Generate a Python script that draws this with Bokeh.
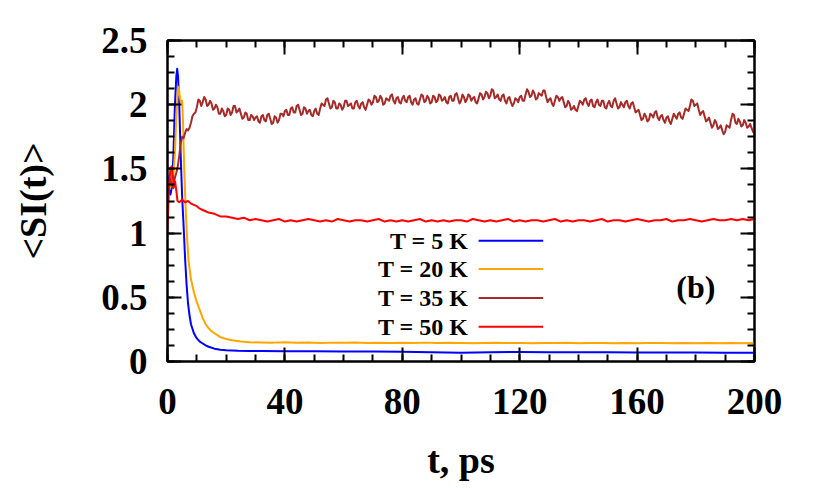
from bokeh.plotting import figure
from bokeh.models import Range1d, LinearAxis, SingleIntervalTicker, CustomJSTickFormatter, Label
from bokeh.embed import file_html
from bokeh.resources import INLINE

# ---------------- data ----------------
blue_t = [0, 0.5, 1, 1.5, 2, 2.5, 3, 3.3, 3.6, 4,
          4.5, 5, 5.5, 6, 6.5, 7, 7.5, 8, 9, 10,
          11, 12, 13, 14, 16, 18, 20, 24, 28, 32,
          40, 50, 60, 70, 80, 90, 100, 110, 120, 130,
          140, 150, 160, 170, 180, 190, 200]
blue_v = [1.45, 1.34, 1.30, 1.36, 1.60, 1.98, 2.22, 2.28, 2.22, 2.00,
          1.60, 1.28, 1.05, 0.80, 0.60, 0.45, 0.36, 0.29, 0.22, 0.18,
          0.155, 0.14, 0.125, 0.115, 0.10, 0.092, 0.087, 0.083, 0.082, 0.081,
          0.080, 0.079, 0.078, 0.078, 0.076, 0.072, 0.068, 0.072, 0.074, 0.073,
          0.072, 0.072, 0.071, 0.070, 0.070, 0.069, 0.069]

orange_t_early = [0, 0.5, 1, 1.5, 2, 2.5, 3, 3.5, 3.8, 4.1, 4.5, 5, 5.3, 5.7, 6.2, 6.7,
                  7.2, 8, 9, 10, 11, 12, 13, 14, 15, 16, 17, 18, 20, 22, 25, 28]
orange_v_early = [1.40, 1.38, 1.36, 1.40, 1.45, 1.62, 1.90, 2.10, 2.14, 2.08, 2.02, 2.03, 1.85, 1.50, 1.18, 0.95,
                  0.78, 0.64, 0.54, 0.46, 0.40, 0.34, 0.29, 0.26, 0.235, 0.22, 0.205, 0.19, 0.175, 0.165, 0.155, 0.15]
# from t = 32 ps every 4 ps
orange_v_late = [0.148, 0.147, 0.149, 0.146, 0.148, 0.145, 0.147, 0.146, 0.148, 0.145,
                 0.146, 0.144, 0.146, 0.145, 0.147, 0.144, 0.146, 0.145, 0.143, 0.145,
                 0.146, 0.144, 0.145, 0.143, 0.145, 0.144, 0.146, 0.143, 0.144, 0.145,
                 0.143, 0.144, 0.142, 0.144, 0.145, 0.143, 0.144, 0.142, 0.144, 0.143,
                 0.145, 0.143, 0.144]

# T = 35 K: values at whole ps (t = 0, 1, ..., 200)
brown_v = [1.30, 1.42, 1.35, 1.47, 1.60, 1.75, 1.78, 1.80, 1.86, 1.93,
           1.98, 2.03, 2.02, 2.04, 2.00, 2.01, 1.97, 1.98, 1.93, 1.95,
           1.92, 1.96, 1.94, 1.99, 1.95, 1.93, 1.90, 1.93, 1.88, 1.91,
           1.90, 1.87, 1.91, 1.88, 1.92, 1.89, 1.86, 1.90, 1.88, 1.93,
           1.95, 1.92, 1.97, 1.94, 1.99, 1.96, 1.93, 1.97, 1.95, 1.92,
           1.95, 1.93, 1.97, 2.00, 2.04, 2.01, 1.98, 2.02, 1.97, 2.00,
           1.98, 2.03, 2.00, 1.97, 2.02, 1.99, 2.01, 1.98, 2.00, 2.03,
           2.02, 2.06, 2.03, 2.05, 2.01, 2.04, 2.07, 2.03, 2.05, 2.02,
           2.05, 2.03, 2.06, 2.02, 2.04, 2.01, 2.04, 2.07, 2.03, 2.05,
           2.02, 2.06, 2.03, 2.07, 2.04, 2.02, 2.06, 2.03, 2.08, 2.05,
           2.03, 2.06, 2.04, 2.07, 2.05, 2.02, 2.05, 2.08, 2.06, 2.09,
           2.07, 2.11, 2.06, 2.04, 2.07, 2.03, 2.05, 2.02, 2.01, 2.04,
           2.06, 2.03, 2.08, 2.10, 2.07, 2.09, 2.05, 2.08, 2.11, 2.06,
           2.04, 2.01, 2.03, 2.06, 2.05, 2.02, 1.99, 2.01, 1.97, 1.96,
           1.99, 2.02, 2.04, 2.01, 2.03, 1.99, 2.02, 2.00, 2.03, 1.98,
           2.01, 1.99, 2.03, 2.01, 1.98, 2.00, 2.02, 1.99, 2.01, 1.98,
           1.95, 1.92, 1.89, 1.91, 1.88, 1.92, 1.94, 1.90, 1.91, 1.88,
           1.90, 1.87, 1.89, 1.91, 1.93, 1.90, 1.93, 1.96, 1.99, 2.03,
           2.00, 1.96, 1.94, 1.91, 1.88, 1.86, 1.84, 1.86, 1.82, 1.80,
           1.79, 1.83, 1.88, 1.92, 1.85, 1.87, 1.84, 1.86, 1.83, 1.82,
           1.78]
# T = 35 K: values at half ps (t = 0.5, 1.5, ..., 199.5)
brown_half_v = [1.40, 1.36, 1.43, 1.52, 1.70, 1.74, 1.81, 1.82, 1.91, 1.94,
                2.04, 1.99, 2.06, 1.99, 2.03, 1.96, 2.00, 1.93, 1.97, 1.91,
                1.97, 1.92, 1.99, 1.94, 1.97, 1.89, 1.94, 1.88, 1.92, 1.88,
                1.91, 1.86, 1.92, 1.87, 1.93, 1.85, 1.91, 1.86, 1.93, 1.91,
                1.96, 1.92, 1.98, 1.94, 2.00, 1.92, 1.98, 1.93, 1.96, 1.91,
                1.97, 1.92, 2.01, 1.99, 2.05, 1.97, 2.03, 1.97, 2.01, 1.96,
                2.03, 1.99, 2.01, 1.97, 2.03, 1.97, 2.02, 1.96, 2.04, 2.00,
                2.07, 2.02, 2.07, 2.00, 2.05, 2.03, 2.08, 2.01, 2.06, 2.01,
                2.07, 2.02, 2.07, 2.00, 2.05, 2.00, 2.08, 2.02, 2.07, 2.01,
                2.07, 2.02, 2.08, 2.03, 2.06, 2.01, 2.07, 2.03, 2.09, 2.01,
                2.08, 2.02, 2.08, 2.03, 2.06, 2.01, 2.09, 2.04, 2.10, 2.05,
                2.12, 2.05, 2.08, 2.03, 2.08, 2.01, 2.06, 1.99, 2.05, 2.02,
                2.07, 2.03, 2.12, 2.06, 2.11, 2.04, 2.09, 2.07, 2.11, 2.02,
                2.05, 1.99, 2.07, 2.03, 2.06, 1.98, 2.03, 1.96, 1.99, 1.95,
                2.03, 2.00, 2.05, 1.99, 2.04, 1.98, 2.04, 1.99, 2.03, 1.97,
                2.03, 1.98, 2.05, 1.97, 2.02, 1.98, 2.03, 1.97, 2.02, 1.94,
                1.96, 1.88, 1.93, 1.87, 1.93, 1.90, 1.95, 1.88, 1.92, 1.86,
                1.91, 1.85, 1.93, 1.89, 1.94, 1.89, 1.97, 1.95, 2.04, 1.99,
                2.01, 1.92, 1.95, 1.87, 1.90, 1.82, 1.88, 1.81, 1.84, 1.77,
                1.84, 1.82, 1.93, 1.86, 1.89, 1.83, 1.88, 1.82, 1.85, 1.79]

red_t_early = [0, 0.5, 1.0, 1.4, 1.8, 2.2, 2.6, 3.0, 3.4, 4, 5, 6, 7, 8, 9, 10, 11, 12, 13]
red_v_early = [1.02, 1.35, 1.50, 1.52, 1.45, 1.36, 1.40, 1.33, 1.25, 1.24, 1.26, 1.24, 1.25,
               1.23, 1.22, 1.21, 1.19, 1.18, 1.17]
# from t = 14 ps every 2 ps
red_v_late = [1.16, 1.15, 1.13, 1.13, 1.12, 1.11, 1.12, 1.10, 1.11, 1.10,
              1.09, 1.10, 1.11, 1.09, 1.10, 1.09, 1.10, 1.11, 1.10, 1.09,
              1.10, 1.09, 1.11, 1.10, 1.09, 1.10, 1.10, 1.09, 1.10, 1.11,
              1.09, 1.10, 1.09, 1.10, 1.09, 1.10, 1.11, 1.09, 1.10, 1.09,
              1.10, 1.09, 1.10, 1.10, 1.09, 1.11, 1.10, 1.09, 1.10, 1.09,
              1.10, 1.11, 1.09, 1.10, 1.09, 1.10, 1.10, 1.09, 1.10, 1.11,
              1.09, 1.10, 1.09, 1.10, 1.10, 1.09, 1.10, 1.11, 1.09, 1.10,
              1.10, 1.09, 1.10, 1.11, 1.10, 1.09, 1.10, 1.10, 1.11, 1.09,
              1.10, 1.10, 1.11, 1.10, 1.09, 1.10, 1.11, 1.10, 1.10, 1.11,
              1.10, 1.11, 1.10, 1.11]

series_labels = ["T = 5 K", "T = 20 K", "T = 35 K", "T = 50 K"]
series_colors = ["#0000ff", "#ffa500", "#a52a2a", "#ff0000"]

x_label = "t, ps"
y_label = "<SI(t)>"
panel_tag = "(b)"

# ---------------- assemble series ----------------
orange_t = orange_t_early + [32 + 4 * i for i in range(len(orange_v_late))]
orange_v = orange_v_early + orange_v_late

brown_t, brown_all = [], []
for i, v in enumerate(brown_v):
    brown_t.append(i)
    brown_all.append(v)
    if i < len(brown_half_v):
        brown_t.append(i + 0.5)
        brown_all.append(brown_half_v[i])

red_t = red_t_early + [14 + 2 * i for i in range(len(red_v_late))]
red_v = red_v_early + red_v_late

FONT = "Liberation Serif"

p = figure(width=810, height=484, x_range=Range1d(0, 200), y_range=Range1d(0, 2.5),
           output_backend="svg", toolbar_location=None,
           x_axis_location=None, y_axis_location=None,
           min_border_left=167, min_border_right=56, min_border_top=40, min_border_bottom=123)
p.xgrid.visible = False
p.ygrid.visible = False
p.outline_line_color = "black"
p.outline_line_width = 2
p.background_fill_color = "white"
p.border_fill_color = "white"

xt = SingleIntervalTicker(interval=40, num_minor_ticks=4)
yt = SingleIntervalTicker(interval=0.5, num_minor_ticks=4)
yfmt = CustomJSTickFormatter(code="return (Math.round(tick*10)/10).toString();")

bottom = LinearAxis(ticker=xt, axis_label=x_label)
left = LinearAxis(ticker=yt, formatter=yfmt, axis_label=y_label)
above = LinearAxis(ticker=xt)
right = LinearAxis(ticker=yt)
p.add_layout(bottom, "below")
p.add_layout(left, "left")
p.add_layout(above, "above")
p.add_layout(right, "right")

for ax in [bottom, left, above, right]:
    ax.axis_line_color = "black"
    ax.axis_line_width = 2
    ax.major_tick_line_color = "black"
    ax.major_tick_line_width = 2
    ax.minor_tick_line_color = "black"
    ax.minor_tick_line_width = 2
    ax.major_tick_in = 14
    ax.major_tick_out = 0
    ax.minor_tick_in = 7
    ax.minor_tick_out = 0
    ax.major_label_text_font = FONT
    ax.major_label_text_font_style = "bold"
    ax.major_label_text_font_size = "37px"
    ax.major_label_text_color = "black"
    ax.axis_label_text_font = FONT
    ax.axis_label_text_font_style = "bold"
    ax.axis_label_text_font_size = "38px"
    ax.axis_label_text_color = "black"

for ax in [above, right]:
    ax.major_label_text_color = None
    ax.major_label_text_font_size = "1px"
    ax.major_label_standoff = 0

bottom.major_label_standoff = 27
left.major_label_standoff = 20
bottom.axis_label_standoff = 22
left.axis_label_standoff = 44

lw = 2
p.line(blue_t, blue_v, line_color=series_colors[0], line_width=lw, line_join="round")
p.line(orange_t, orange_v, line_color=series_colors[1], line_width=lw, line_join="round")
p.line(brown_t, brown_all, line_color=series_colors[2], line_width=lw, line_join="round")
p.line(red_t, red_v, line_color=series_colors[3], line_width=lw, line_join="round")

# legend (label to the left of its key line, as in the reference)
leg_text_x = 102.5
leg_key_x0, leg_key_x1 = 106, 128
leg_rows_y = [0.94, 0.72, 0.495, 0.27]
for lab, col, yy in zip(series_labels, series_colors, leg_rows_y):
    p.add_layout(Label(x=leg_text_x, y=yy, text=lab, text_align="right", text_baseline="middle",
                       text_font=FONT, text_font_style="bold", text_font_size="24px",
                       text_color="black"))
    p.segment(x0=[leg_key_x0], y0=[yy], x1=[leg_key_x1], y1=[yy], line_color=col, line_width=2)

p.add_layout(Label(x=180, y=0.58, text=panel_tag, text_align="center", text_baseline="middle",
                   text_font=FONT, text_font_style="bold", text_font_size="32px",
                   text_color="black"))

open("out.html", "w").write(file_html(p, INLINE))
